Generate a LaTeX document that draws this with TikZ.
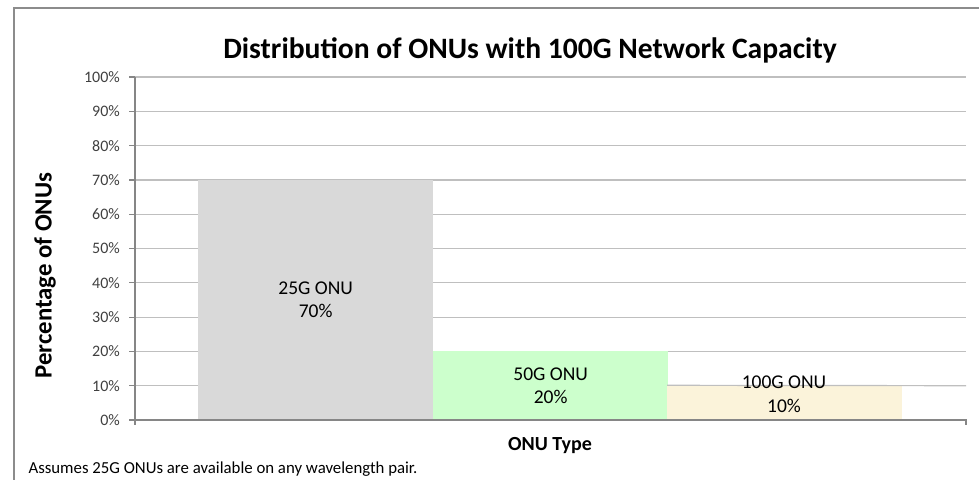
\documentclass[tikz,border=0pt]{standalone}
\usepackage{fontspec}
\setmainfont{Carlito}
\definecolor{framegray}{HTML}{8C8C8C}
\definecolor{axisgray}{HTML}{868686}
\definecolor{gridgray}{HTML}{BFBFBF}
\definecolor{ticktext}{HTML}{404040}
\definecolor{barA}{HTML}{D9D9D9}
\definecolor{barB}{HTML}{CCFFCC}
\definecolor{barC}{HTML}{FBF3DA}
\tikzset{
  framebox/.style={draw=framegray, line width=1.3pt},
  gridline/.style={draw=gridgray, line width=1.2pt},
  axisline/.style={draw=axisgray, line width=1.2pt},
  ticklabel/.style={anchor=east, text=ticktext, inner sep=0pt, font=\fontsize{16}{18}\selectfont},
  barbox/.style={draw=none, inner sep=0pt, anchor=south west, minimum width=235pt},
  barlabel/.style={align=center, inner sep=0pt, font=\fontsize{19.5}{23.5}\selectfont},
  charttitle/.style={font=\bfseries\fontsize{29.6}{34}\selectfont},
  axistitle/.style={font=\bfseries\fontsize{20}{24}\selectfont},
  note/.style={anchor=west, font=\fontsize{16.8}{19}\selectfont}
}
\begin{document}
\begin{tikzpicture}[x=1pt, y=-1pt]
\useasboundingbox (0,0) rectangle (979,479);
\clip (0,0) rectangle (979,479);
% chart frame
\draw[framebox] (14,8) rectangle (995,495);
% horizontal gridlines and value labels
\foreach \p in {0,10,...,100} {
  \pgfmathsetmacro{\yy}{420-3.43*\p}
  \ifnum\p>0 \draw[gridline] (135,\yy) -- (966,\yy); \fi
  \draw[axisline] (129,\yy) -- (135,\yy);
  \node[ticklabel] (t\p) at (120,\yy) {\p\%};
}
% bars
\node[barbox, fill=barA, minimum height=240.1pt] (b25) at (198,420) {};
\node[barbox, fill=barB, minimum height=68.6pt] (b50) at (433,420) {};
\node[barbox, fill=barC, minimum height=34.3pt] (b100) at (667,420) {};
% the 10% gridline stays visible along the top of the last bar
\draw[gridline] (b100.north west) -- (966,385.7);
% axes
\draw[axisline] (135,77) -- (135,425);
\draw[axisline] (135,420) -- (966,420) -- (966,425);
% bar labels
\node[barlabel] (l25) at (b25.center) {25G ONU\\70\%};
\node[barlabel] (l50) at (b50.center) {50G ONU\\20\%};
\node[barlabel] (l100) at (784,394) {100G ONU\\10\%};
% titles
\node[charttitle] (title) at (530,50) {Distribution of ONUs with 100G Network Capacity};
\node[axistitle, rotate=90, font=\bfseries\fontsize{24.8}{28}\selectfont] (ytitle) at (45,275.5) {Percentage of ONUs};
\node[axistitle] (xtitle) at (550,446) {ONU Type};
\node[note] (foot) at (25,469) {Assumes 25G ONUs are available on any wavelength pair.};
\end{tikzpicture}
\end{document}
